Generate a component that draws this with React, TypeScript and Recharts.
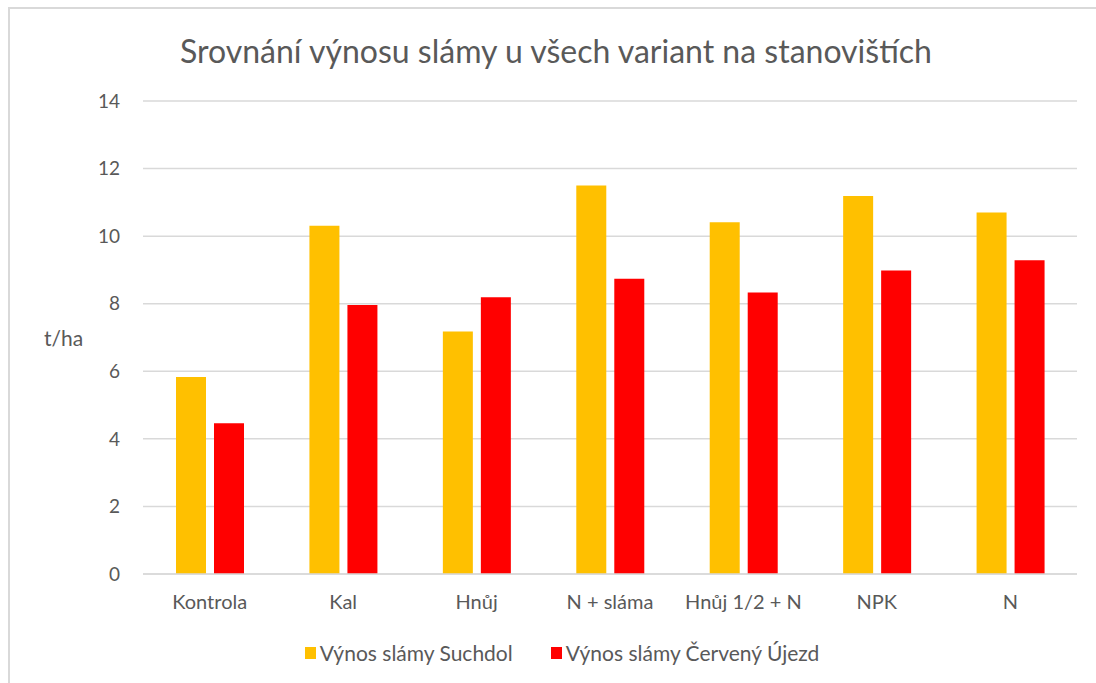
import { BarChart, Bar, XAxis, YAxis, CartesianGrid } from "recharts";

const categories = ["Kontrola", "Kal", "Hnůj", "N + sláma", "Hnůj 1/2 + N", "NPK", "N"];
const suchdol = [5.83, 10.31, 7.18, 11.5, 10.41, 11.19, 10.7];
const cervenyUjezd = [4.46, 7.96, 8.19, 8.74, 8.33, 8.98, 9.29];
const yTicks = [0, 2, 4, 6, 8, 10, 12, 14];

const seriesNames = ["Výnos slámy Suchdol", "Výnos slámy Červený Újezd"];
const colors = ["#FFC000", "#FF0000"];

const data = categories.map((name, i) => ({
  name,
  suchdol: suchdol[i],
  ujezd: cervenyUjezd[i],
}));

const font = "Lato, 'Open Sans', sans-serif";
const textColor = "#595959";

export default function App() {
  return (
    <div style={{ position: "absolute", left: 0, top: 0, width: 1096, height: 683, background: "#fff" }}>
      <div
        style={{
          position: "absolute",
          left: 8,
          top: 7,
          width: 1088,
          height: 676,
          borderLeft: "2px solid #d9d9d9",
          borderTop: "2px solid #d9d9d9",
          boxSizing: "border-box",
        }}
      />
      <div
        style={{
          position: "absolute",
          left: 0,
          top: 31,
          width: 1112,
          textAlign: "center",
          fontFamily: font,
          fontSize: 32,
          color: textColor,
        }}
      >
        Srovnání výnosu slámy u všech variant na stanovištích
      </div>
      <div
        style={{
          position: "absolute",
          left: 44,
          top: 325,
          fontFamily: font,
          fontSize: 21,
          color: textColor,
        }}
      >
        t/ha
      </div>
      <div style={{ position: "absolute", left: 0, top: 0 }}>
        <BarChart
          width={1096}
          height={683}
          data={data}
          margin={{ top: 101, right: 19, bottom: 79, left: 83 }}
          barSize={30}
          barGap={8}
        >
          <CartesianGrid vertical={false} stroke="#d9d9d9" strokeWidth={1.5} />
          <XAxis
            dataKey="name"
            height={30}
            axisLine={{ stroke: "#d9d9d9", strokeWidth: 1.5 }}
            tickLine={false}
            tickMargin={15}
            tick={{ fill: textColor, fontSize: 20, fontFamily: font }}
            interval={0}
          />
          <YAxis
            width={60}
            domain={[0, 14]}
            ticks={yTicks}
            axisLine={false}
            tickLine={false}
            tickMargin={17}
            tick={{ fill: textColor, fontSize: 19, fontFamily: font }}
          />
          <Bar dataKey="suchdol" name={seriesNames[0]} fill={colors[0]} isAnimationActive={false} />
          <Bar dataKey="ujezd" name={seriesNames[1]} fill={colors[1]} isAnimationActive={false} />
        </BarChart>
      </div>
      <div
        style={{
          position: "absolute",
          left: 0,
          top: 640,
          width: 1124,
          display: "flex",
          justifyContent: "center",
          gap: 38,
          fontFamily: font,
          fontSize: 21,
          color: textColor,
        }}
      >
        {seriesNames.map((s, i) => (
          <div key={s} style={{ display: "flex", alignItems: "center" }}>
            <span style={{ width: 11, height: 12, background: colors[i], display: "inline-block", marginRight: 4 }} />
            <span>{s}</span>
          </div>
        ))}
      </div>
    </div>
  );
}
